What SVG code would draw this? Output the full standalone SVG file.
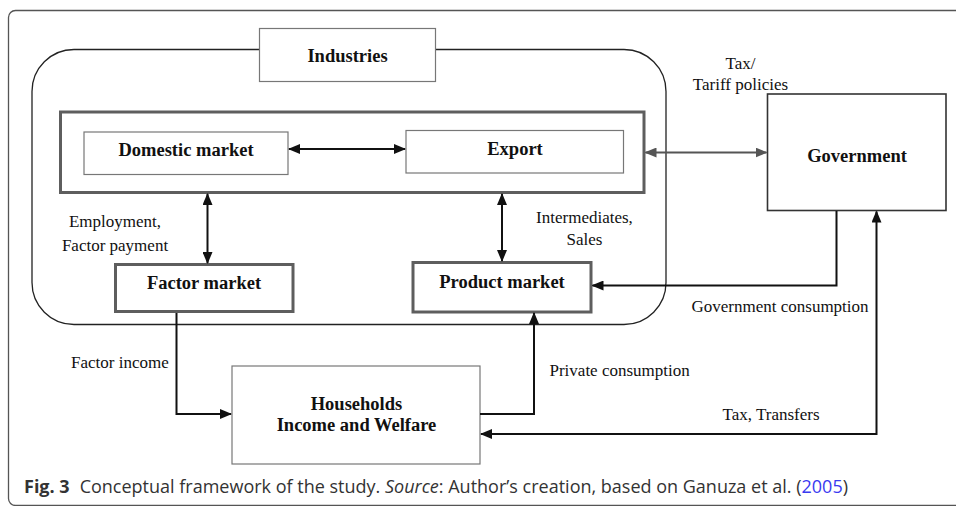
<svg xmlns="http://www.w3.org/2000/svg" width="956" height="506" viewBox="0 0 956 506">
<style>
.lbl{font-family:"Liberation Serif","Times New Roman",serif;font-size:17px;fill:#111}
.bold{font-family:"Liberation Serif","Times New Roman",serif;font-size:18.5px;font-weight:bold;fill:#111}
.thin{fill:#fff;stroke:#777;stroke-width:1.2}
.thick{fill:#fff;stroke:#5e5e5e;stroke-width:3}
.conn{fill:none;stroke:#111;stroke-width:2}
.cap{font-family:"Open Sans","Noto Sans",sans-serif;font-size:18px;fill:#333}
</style>
<defs>
<marker id="ah" markerUnits="userSpaceOnUse" markerWidth="12" markerHeight="10" refX="11" refY="5" orient="auto-start-reverse">
<path d="M0,0 L12,5 L0,10 z" fill="#111"/>
</marker>
<marker id="ahg" markerUnits="userSpaceOnUse" markerWidth="12" markerHeight="10" refX="11" refY="5" orient="auto-start-reverse">
<path d="M0,0 L12,5 L0,10 z" fill="#555"/>
</marker>
</defs>
<rect width="956" height="506" fill="#fff"/>
<rect id="frame" x="8.5" y="10.5" width="960" height="495" rx="7" fill="none" stroke="#555" stroke-width="1.3"/>

<g id="industries-container">
<rect x="32" y="49.5" width="634" height="275" rx="42" fill="none" stroke="#222" stroke-width="1.3"/>
</g>

<g id="industries">
<rect class="thin" x="259.5" y="28.5" width="176" height="53"/>
<text class="bold" x="347.5" y="62" text-anchor="middle">Industries</text>
</g>

<g id="markets-group">
<rect class="thick" x="60.5" y="112" width="583.5" height="80.5"/>
</g>

<g id="domestic">
<rect class="thin" x="84" y="132" width="204" height="42.5"/>
<text class="bold" x="186" y="156" text-anchor="middle">Domestic market</text>
</g>

<g id="export">
<rect class="thin" x="406" y="130.5" width="217.5" height="42.5"/>
<text class="bold" x="515" y="155" text-anchor="middle">Export</text>
</g>

<g id="government">
<rect x="767.5" y="94" width="178.5" height="116.5" fill="#fff" stroke="#333" stroke-width="1.6"/>
<text class="bold" x="857" y="162" text-anchor="middle">Government</text>
</g>

<g id="factor">
<rect class="thick" x="115.5" y="264.5" width="177.5" height="47"/>
<text class="bold" x="204" y="289" text-anchor="middle">Factor market</text>
</g>

<g id="product">
<rect class="thick" x="413" y="262.5" width="178" height="49.5"/>
<text class="bold" x="502" y="287.5" text-anchor="middle">Product market</text>
</g>

<g id="households">
<rect class="thin" x="232" y="366" width="248" height="98"/>
<text class="bold" x="356.5" y="409.5" text-anchor="middle">Households</text>
<text class="bold" x="356.5" y="430.5" text-anchor="middle">Income and Welfare</text>
</g>

<g id="connectors">
<line class="conn" x1="289" y1="149" x2="405" y2="149" marker-start="url(#ah)" marker-end="url(#ah)"/>
<line x1="645.5" y1="152.5" x2="766.5" y2="152.5" fill="none" stroke="#555" stroke-width="2" marker-start="url(#ahg)" marker-end="url(#ahg)"/>
<line class="conn" x1="207.5" y1="194" x2="207.5" y2="263" marker-start="url(#ah)" marker-end="url(#ah)"/>
<line class="conn" x1="502" y1="194" x2="502" y2="261" marker-start="url(#ah)" marker-end="url(#ah)"/>
<polyline class="conn" points="836.5,211 836.5,285.5 592.5,285.5" marker-end="url(#ah)"/>
<polyline class="conn" points="176.5,313 176.5,414 231,414" marker-end="url(#ah)"/>
<polyline class="conn" points="480,414 534,414 534,313" marker-end="url(#ah)"/>
<polyline class="conn" points="481,434 876.5,434 876.5,211.5" marker-start="url(#ah)" marker-end="url(#ah)"/>
</g>

<g id="labels">
<text class="lbl" x="740.5" y="69" text-anchor="middle">Tax/</text>
<text class="lbl" x="740.5" y="89.5" text-anchor="middle">Tariff policies</text>
<text class="lbl" x="115" y="226.5" text-anchor="middle">Employment,</text>
<text class="lbl" x="115" y="250.5" text-anchor="middle">Factor payment</text>
<text class="lbl" x="584.5" y="223" text-anchor="middle">Intermediates,</text>
<text class="lbl" x="584.5" y="244.5" text-anchor="middle">Sales</text>
<text class="lbl" x="691.5" y="312">Government consumption</text>
<text class="lbl" x="71" y="367.5">Factor income</text>
<text class="lbl" x="549.5" y="375.5">Private consumption</text>
<text class="lbl" x="722.5" y="420">Tax, Transfers</text>
</g>

<text class="cap" x="24" y="493"><tspan font-weight="bold">Fig. 3</tspan><tspan dx="10">Conceptual framework of the study. </tspan><tspan font-style="italic">Source</tspan>: Author’s creation, based on Ganuza et al. (<tspan fill="#3a3af0">2005</tspan>)</text>
</svg>
